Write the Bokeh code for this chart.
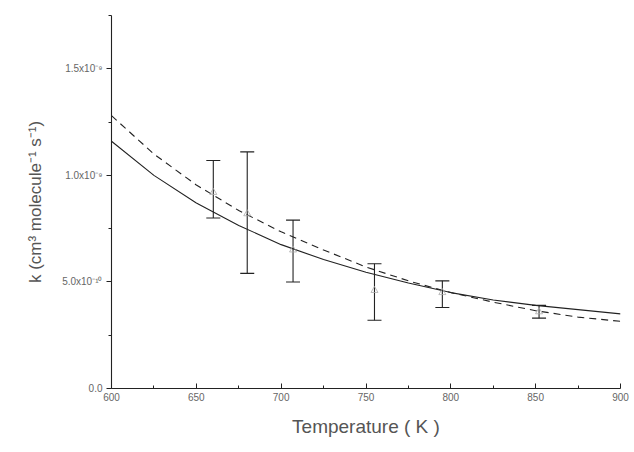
from bokeh.plotting import figure
from bokeh.models import ColumnDataSource, Whisker, FixedTicker, Range1d, TeeHead
from bokeh.embed import file_html
from bokeh.resources import INLINE

# Curves
curve_T = [600, 625, 650, 675, 700, 725, 750, 775, 800, 825, 850, 875, 900]
k_solid = [1.16e-9, 1.00e-9, 0.87e-9, 0.765e-9, 0.675e-9, 0.605e-9, 0.545e-9, 0.495e-9,
           0.45e-9, 0.415e-9, 0.39e-9, 0.37e-9, 0.35e-9]
k_dashed = [1.28e-9, 1.10e-9, 0.955e-9, 0.835e-9, 0.735e-9, 0.65e-9, 0.57e-9, 0.505e-9,
            0.45e-9, 0.405e-9, 0.365e-9, 0.335e-9, 0.315e-9]

# Measured points with error bars
exp_T = [660, 680, 707, 755, 795, 852]
exp_k = [0.92e-9, 0.82e-9, 0.65e-9, 0.46e-9, 0.45e-9, 0.36e-9]
exp_low = [0.80e-9, 0.54e-9, 0.50e-9, 0.32e-9, 0.38e-9, 0.33e-9]
exp_high = [1.07e-9, 1.11e-9, 0.79e-9, 0.585e-9, 0.505e-9, 0.39e-9]

x_ticks = [600, 650, 700, 750, 800, 850, 900]
x_minor = [625, 675, 725, 775, 825, 875]
y_ticks = [0.0, 5e-10, 1e-9, 1.5e-9]
y_minor = [2.5e-10, 7.5e-10, 1.25e-9, 1.75e-9]
y_labels = ["0.0", "5.0x10\u207b\u00b9\u2070", "1.0x10\u207b\u2079", "1.5x10\u207b\u2079"]
x_labels = ["600", "650", "700", "750", "800", "850", "900"]

ink = "#222222"
txt = "#666666"

p = figure(width=634, height=452, output_backend="svg", toolbar_location=None,
           x_range=Range1d(600, 900), y_range=Range1d(0, 1.75e-9),
           min_border_left=111, min_border_right=14, min_border_top=15, min_border_bottom=64)
p.outline_line_color = None
p.grid.visible = False
p.background_fill_color = "white"
p.border_fill_color = "white"

p.line(curve_T, k_solid, line_color=ink, line_width=1.1)
p.line(curve_T, k_dashed, line_color=ink, line_width=1.1, line_dash="7 5")

src = ColumnDataSource(dict(T=exp_T, k=exp_k, lo=exp_low, hi=exp_high))
w = Whisker(source=src, base="T", lower="lo", upper="hi", dimension="height",
            line_color=ink, line_width=1.1,
            upper_head=TeeHead(size=14, line_color=ink, line_width=1.1),
            lower_head=TeeHead(size=14, line_color=ink, line_width=1.1))
p.add_layout(w)
p.scatter("T", "k", source=src, marker="triangle", size=7, fill_color=None,
          line_color="#aaaaaa", line_width=0.8)

p.xaxis.ticker = FixedTicker(ticks=x_ticks, minor_ticks=x_minor)
p.yaxis.ticker = FixedTicker(ticks=y_ticks, minor_ticks=y_minor)
p.xaxis.major_label_overrides = {t: l for t, l in zip(x_ticks, x_labels)}
p.yaxis.major_label_overrides = {t: l for t, l in zip(y_ticks, y_labels)}

for ax in (p.xaxis, p.yaxis):
    ax.axis_line_color = ink
    ax.axis_line_width = 1.1
    ax.major_tick_line_color = ink
    ax.minor_tick_line_color = ink
    ax.major_label_text_color = txt
    ax.major_label_text_font = "Liberation Sans"
    ax.major_label_text_font_size = "10px"
    ax.axis_label_text_color = "#555555"
    ax.axis_label_text_font = "Liberation Sans"
    ax.axis_label_text_font_style = "normal"

p.xaxis.major_tick_in = 5
p.xaxis.major_tick_out = 0
p.xaxis.minor_tick_in = 3
p.xaxis.minor_tick_out = 0
p.yaxis.major_tick_in = 0
p.yaxis.major_tick_out = 5
p.yaxis.minor_tick_in = 0
p.yaxis.minor_tick_out = 3
p.xaxis.major_label_standoff = 4
p.yaxis.major_label_standoff = 4

p.xaxis.axis_label = "Temperature ( K )"
p.xaxis.axis_label_text_font_size = "19px"
p.xaxis.axis_label_standoff = 12
p.yaxis.axis_label = "k (cm\u00b3 molecule\u207b\u00b9 s\u207b\u00b9)"
p.yaxis.axis_label_text_font_size = "17px"
p.yaxis.axis_label_standoff = 14

open("out.html", "w").write(file_html(p, INLINE))
